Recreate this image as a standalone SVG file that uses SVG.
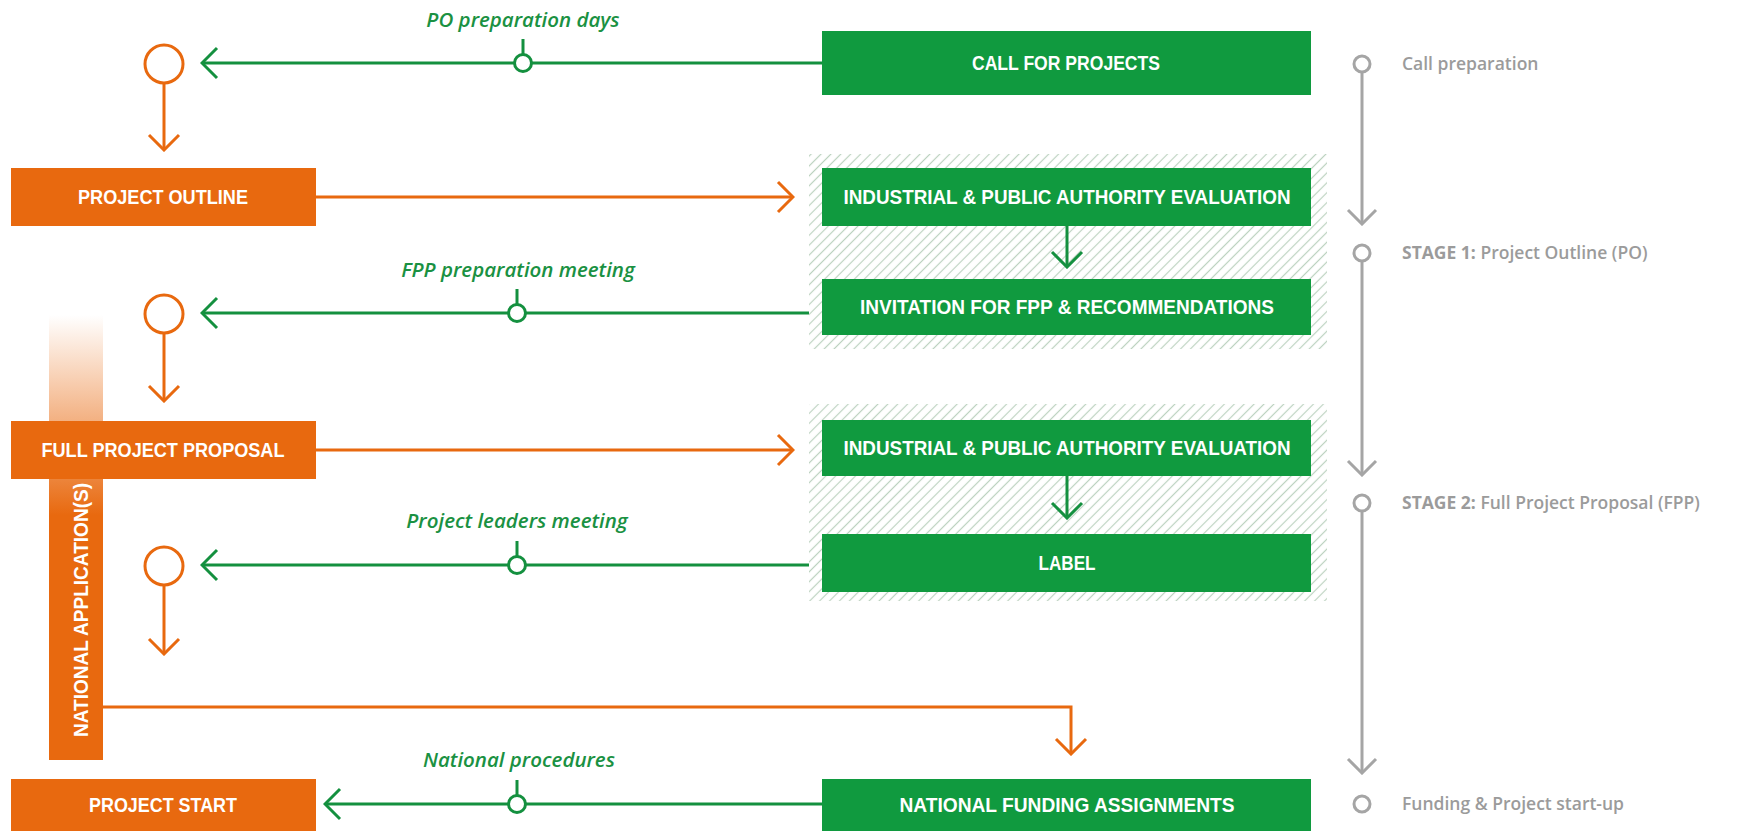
<svg xmlns="http://www.w3.org/2000/svg" width="1752" height="831" viewBox="0 0 1752 831">
<defs>
<style>
.ob{fill:#E8690F}
.gb{fill:#109A3F}
.bt{font-family:"Liberation Sans",Arial,sans-serif;font-weight:bold;font-size:20px;fill:#fff;text-anchor:middle}
.gl{font-family:"Open Sans","Liberation Sans",sans-serif;font-style:italic;font-weight:600;font-size:20.5px;fill:#1A9142;text-anchor:middle}
.st{font-family:"Open Sans","Liberation Sans",sans-serif;font-weight:600;font-size:17.5px;fill:#9B9B9B}
.oc{fill:none;stroke:#E8690F;stroke-width:3}
.gc{fill:none;stroke:#14903F;stroke-width:3}
.yc{fill:none;stroke:#A5A5A5;stroke-width:3}
.dot{fill:#fff;stroke:#14903F;stroke-width:3}
.ring{fill:#fff;stroke:#E8690F;stroke-width:3}
.gring{fill:#fff;stroke:#A5A5A5;stroke-width:3}
</style>
<marker id="ao" markerUnits="userSpaceOnUse" viewBox="-18 -18 20 36" refX="0" refY="0" markerWidth="20" markerHeight="36" orient="auto"><path d="M-15,-15 L0,0 L-15,15" fill="none" stroke="#E8690F" stroke-width="3"/></marker>
<marker id="ag" markerUnits="userSpaceOnUse" viewBox="-18 -18 20 36" refX="0" refY="0" markerWidth="20" markerHeight="36" orient="auto"><path d="M-15,-15 L0,0 L-15,15" fill="none" stroke="#14903F" stroke-width="3"/></marker>
<marker id="ay" markerUnits="userSpaceOnUse" viewBox="-18 -18 20 36" refX="0" refY="0" markerWidth="20" markerHeight="36" orient="auto"><path d="M-14,-14 L0,0 L-14,14" fill="none" stroke="#A5A5A5" stroke-width="3"/></marker>
<pattern id="hatch" width="7" height="7" patternUnits="userSpaceOnUse" patternTransform="rotate(45)"><line x1="3.5" y1="0" x2="3.5" y2="7" stroke="#BCD2C0" stroke-width="1.2"/></pattern>
<linearGradient id="fade" x1="0" y1="315" x2="0" y2="760" gradientUnits="userSpaceOnUse">
<stop offset="0" stop-color="#E8690F" stop-opacity="0"/>
<stop offset="0.25" stop-color="#E8690F" stop-opacity="0.55"/>
<stop offset="0.45" stop-color="#E8690F" stop-opacity="1"/>
<stop offset="1" stop-color="#E8690F" stop-opacity="1"/>
</linearGradient>
</defs>
<rect width="1752" height="831" fill="#fff"/>

<g id="hatch-stage1"><rect x="809" y="154" width="518" height="195" fill="url(#hatch)"/></g>
<g id="hatch-stage2"><rect x="809" y="404" width="518" height="197" fill="url(#hatch)"/></g>

<g id="national-applications">
<rect x="49" y="315" width="54" height="445" fill="url(#fade)"/>
<text class="bt" transform="translate(88,610) rotate(-90)" textLength="254" lengthAdjust="spacingAndGlyphs">NATIONAL APPLICATION(S)</text>
</g>

<g id="connectors">
<line class="gc" x1="822" y1="63" x2="202" y2="63" marker-end="url(#ag)"/>
<line class="gc" x1="809" y1="313" x2="202" y2="313" marker-end="url(#ag)"/>
<line class="gc" x1="809" y1="565" x2="202" y2="565" marker-end="url(#ag)"/>
<line class="gc" x1="822" y1="804" x2="325" y2="804" marker-end="url(#ag)"/>
<line class="gc" x1="523" y1="39" x2="523" y2="55"/>
<circle class="dot" cx="523" cy="63" r="8.5"/>
<line class="gc" x1="517" y1="289" x2="517" y2="305"/>
<circle class="dot" cx="517" cy="313" r="8.5"/>
<line class="gc" x1="517" y1="541" x2="517" y2="557"/>
<circle class="dot" cx="517" cy="565" r="8.5"/>
<line class="gc" x1="517" y1="780" x2="517" y2="796"/>
<circle class="dot" cx="517" cy="804" r="8.5"/>
<line class="gc" x1="1067" y1="226" x2="1067" y2="267" marker-end="url(#ag)"/>
<line class="gc" x1="1067" y1="476" x2="1067" y2="518" marker-end="url(#ag)"/>
<line class="oc" x1="164" y1="84" x2="164" y2="150" marker-end="url(#ao)"/>
<circle class="ring" cx="164" cy="64" r="19"/>
<line class="oc" x1="164" y1="334" x2="164" y2="401" marker-end="url(#ao)"/>
<circle class="ring" cx="164" cy="314" r="19"/>
<line class="oc" x1="164" y1="586" x2="164" y2="654" marker-end="url(#ao)"/>
<circle class="ring" cx="164" cy="566" r="19"/>
<line class="oc" x1="316" y1="197" x2="793" y2="197" marker-end="url(#ao)"/>
<line class="oc" x1="316" y1="450" x2="793" y2="450" marker-end="url(#ao)"/>
<polyline class="oc" points="103,707 1071,707 1071,754" marker-end="url(#ao)"/>
<line class="yc" x1="1362" y1="72" x2="1362" y2="224" marker-end="url(#ay)"/>
<line class="yc" x1="1362" y1="261" x2="1362" y2="475" marker-end="url(#ay)"/>
<line class="yc" x1="1362" y1="511" x2="1362" y2="773" marker-end="url(#ay)"/>
<circle class="gring" cx="1362" cy="64" r="8"/>
<circle class="gring" cx="1362" cy="253" r="8"/>
<circle class="gring" cx="1362" cy="503" r="8"/>
<circle class="gring" cx="1362" cy="804" r="8"/>
</g>

<g id="call-for-projects"><rect class="gb" x="822" y="31" width="489" height="64"/><text class="bt" x="1066" y="70" textLength="188" lengthAdjust="spacingAndGlyphs">CALL FOR PROJECTS</text></g>
<g id="project-outline"><rect class="ob" x="11" y="168" width="305" height="58"/><text class="bt" x="163" y="204" textLength="170" lengthAdjust="spacingAndGlyphs">PROJECT OUTLINE</text></g>
<g id="evaluation-1"><rect class="gb" x="822" y="168" width="489" height="58"/><text class="bt" x="1067" y="204" textLength="447" lengthAdjust="spacingAndGlyphs">INDUSTRIAL &amp; PUBLIC AUTHORITY EVALUATION</text></g>
<g id="invitation"><rect class="gb" x="822" y="279" width="489" height="56"/><text class="bt" x="1067" y="314" textLength="414" lengthAdjust="spacingAndGlyphs">INVITATION FOR FPP &amp; RECOMMENDATIONS</text></g>
<g id="full-project-proposal"><rect class="ob" x="11" y="421" width="305" height="58"/><text class="bt" x="163" y="457" textLength="243" lengthAdjust="spacingAndGlyphs">FULL PROJECT PROPOSAL</text></g>
<g id="evaluation-2"><rect class="gb" x="822" y="420" width="489" height="56"/><text class="bt" x="1067" y="455" textLength="447" lengthAdjust="spacingAndGlyphs">INDUSTRIAL &amp; PUBLIC AUTHORITY EVALUATION</text></g>
<g id="label"><rect class="gb" x="822" y="534" width="489" height="58"/><text class="bt" x="1067" y="570" textLength="57" lengthAdjust="spacingAndGlyphs">LABEL</text></g>
<g id="project-start"><rect class="ob" x="11" y="779" width="305" height="60"/><text class="bt" x="163" y="812" textLength="148" lengthAdjust="spacingAndGlyphs">PROJECT START</text></g>
<g id="national-funding"><rect class="gb" x="822" y="779" width="489" height="60"/><text class="bt" x="1067" y="812" textLength="335" lengthAdjust="spacingAndGlyphs">NATIONAL FUNDING ASSIGNMENTS</text></g>

<g id="edge-labels">
<text class="gl" x="523" y="27">PO preparation days</text>
<text class="gl" x="518" y="277">FPP preparation meeting</text>
<text class="gl" x="517" y="528">Project leaders meeting</text>
<text class="gl" x="519" y="767">National procedures</text>
</g>

<g id="stages">
<text class="st" x="1402" y="70">Call preparation</text>
<text class="st" x="1402" y="259"><tspan font-weight="700">STAGE 1:</tspan> Project Outline (PO)</text>
<text class="st" x="1402" y="509"><tspan font-weight="700">STAGE 2:</tspan> Full Project Proposal (FPP)</text>
<text class="st" x="1402" y="810">Funding &amp; Project start-up</text>
</g>
</svg>
